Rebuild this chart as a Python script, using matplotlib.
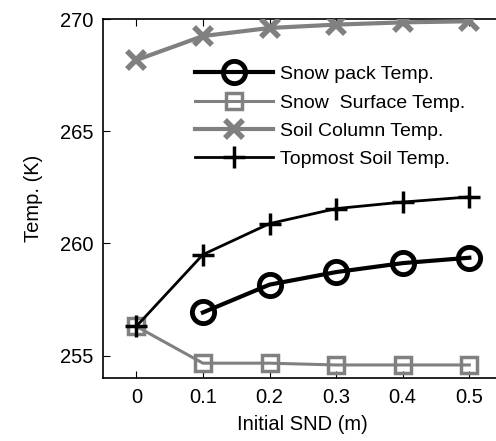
import matplotlib
matplotlib.use('Agg')
import matplotlib.pyplot as plt

plt.rcParams['font.family'] = ['Liberation Sans', 'DejaVu Sans']

# Datos
snd = [0, 0.1, 0.2, 0.3, 0.4, 0.5]
snow_pack = [None, 256.92, 258.16, 258.72, 259.12, 259.36]
snow_surface = [256.3, 254.66, 254.66, 254.58, 254.58, 254.58]
soil_column = [268.17, 269.24, 269.6, 269.75, 269.85, 269.9]
topmost_soil = [256.3, 259.5, 260.88, 261.55, 261.84, 262.07]

gris = '#808080'

fig = plt.figure(figsize=(4.96, 4.41), dpi=100)
ax = fig.add_axes([0.2077, 0.1429, 0.8056, 0.814])

ax.plot(snd[1:], snow_pack[1:], color='black', lw=3, marker='o', ms=16,
        mfc='none', mew=3.5, label='Snow pack Temp.', zorder=4)
ax.plot(snd, snow_surface, color=gris, lw=2.2, marker='s', ms=11,
        mfc='none', mew=2.5, label='Snow  Surface Temp.', zorder=3)
ax.plot(snd, soil_column, color=gris, lw=3, marker='x', ms=13,
        mew=4, label='Soil Column Temp.', zorder=3)
ax.plot(snd, topmost_soil, color='black', lw=2, marker='+', ms=16,
        mew=2.5, label='Topmost Soil Temp.', zorder=5)

ax.set_xlim(-0.05, 0.55)
ax.set_ylim(254, 270)
ax.set_xticks(snd)
ax.set_xticklabels(['0', '0.1', '0.2', '0.3', '0.4', '0.5'])
ax.set_yticks([255, 260, 265, 270])
ax.tick_params(direction='in', top=True, right=False, labelsize=14.5,
               length=5, pad=7)
ax.spines['right'].set_visible(False)
for s in ax.spines.values():
    s.set_linewidth(1.2)

ax.set_xlabel('Initial SND (m)', fontsize=14.5, labelpad=6)
ax.set_ylabel('Temp. (K)', fontsize=14.5, labelpad=12)

ax.legend(loc='upper left', bbox_to_anchor=(0.23, 0.87), frameon=False,
          fontsize=14, handlelength=4.0, handletextpad=0.4,
          labelspacing=0.55, borderpad=0, borderaxespad=0)

plt.savefig('out.png', dpi=100)
